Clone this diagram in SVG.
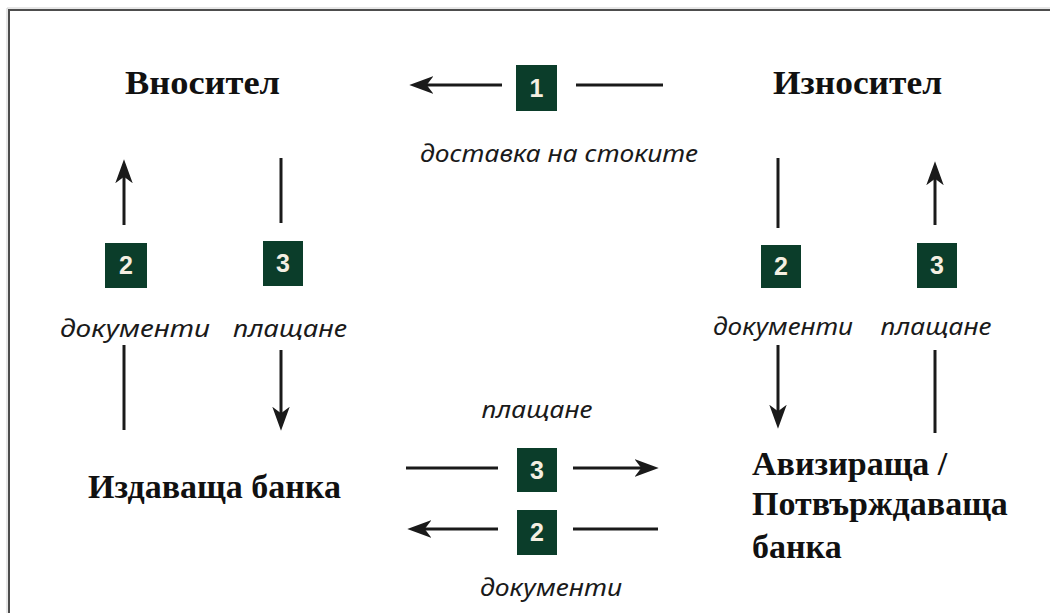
<svg xmlns="http://www.w3.org/2000/svg" width="1050" height="613" viewBox="0 0 1050 613">
<style>
.frame{stroke:#4d4d4d;stroke-width:2;fill:none}
.frame2{stroke:#cfcfcf;stroke-width:1;fill:none}
.ln{stroke:#1a1a1a;stroke-width:3;fill:none}
.box{fill:#0b3d2a}
.num{font-family:"Liberation Sans Narrow","Liberation Sans",Arial,sans-serif;font-weight:bold;font-size:25px;fill:#f4efe2;text-anchor:middle}
.head{font-family:"Liberation Serif","Times New Roman",serif;font-weight:bold;font-size:34px;fill:#111}
.lab{font-family:"Noto Sans","DejaVu Sans",sans-serif;font-style:italic;font-size:24px;fill:#1a1a1a;text-anchor:middle}
</style>
<defs>
<marker id="ah" markerUnits="userSpaceOnUse" markerWidth="24" markerHeight="18" viewBox="0 0 22 16" refX="14" refY="8" orient="auto">
<path d="M0,0 L22,8 L0,16 L6,8 z" fill="#1a1a1a"/>
</marker>
</defs>
<rect width="1050" height="613" fill="#ffffff"/>
<path class="frame2" d="M7,613 V8 H1050"/>
<path class="frame" d="M9,613 V10 H1050"/>

<g id="connectors">
<line class="ln" x1="502" y1="85" x2="418" y2="85" marker-end="url(#ah)"/>
<line class="ln" x1="576" y1="85" x2="663" y2="85"/>
<line class="ln" x1="124" y1="225" x2="124" y2="168" marker-end="url(#ah)"/>
<line class="ln" x1="124" y1="345" x2="124" y2="430"/>
<line class="ln" x1="281" y1="158" x2="281" y2="223"/>
<line class="ln" x1="281" y1="350" x2="281" y2="422" marker-end="url(#ah)"/>
<line class="ln" x1="778" y1="158" x2="778" y2="228"/>
<line class="ln" x1="778" y1="345" x2="778" y2="420" marker-end="url(#ah)"/>
<line class="ln" x1="935" y1="225" x2="935" y2="170" marker-end="url(#ah)"/>
<line class="ln" x1="935" y1="350" x2="935" y2="433"/>
<line class="ln" x1="406" y1="468" x2="498" y2="468"/>
<line class="ln" x1="573" y1="468" x2="650" y2="468" marker-end="url(#ah)"/>
<line class="ln" x1="498" y1="529" x2="416" y2="529" marker-end="url(#ah)"/>
<line class="ln" x1="573" y1="529" x2="658" y2="529"/>
</g>

<g id="step1">
<rect class="box" x="516" y="65" width="41" height="46"/>
<text class="num" x="536.5" y="97">1</text>
<text class="lab" x="559" y="162" textLength="278" lengthAdjust="spacingAndGlyphs">доставка на стоките</text>
</g>
<g id="left-docs">
<rect class="box" x="105" y="243" width="42" height="45"/>
<text class="num" x="126" y="274">2</text>
<text class="lab" x="135" y="337" textLength="150" lengthAdjust="spacingAndGlyphs">документи</text>
</g>
<g id="left-pay">
<rect class="box" x="263" y="241" width="40" height="45"/>
<text class="num" x="283" y="272">3</text>
<text class="lab" x="290" y="337" textLength="114" lengthAdjust="spacingAndGlyphs">плащане</text>
</g>
<g id="right-docs">
<rect class="box" x="761" y="245" width="40" height="43"/>
<text class="num" x="781" y="275">2</text>
<text class="lab" x="783" y="335" textLength="140" lengthAdjust="spacingAndGlyphs">документи</text>
</g>
<g id="right-pay">
<rect class="box" x="917" y="243" width="40" height="45"/>
<text class="num" x="937" y="274">3</text>
<text class="lab" x="936" y="335" textLength="111" lengthAdjust="spacingAndGlyphs">плащане</text>
</g>
<g id="bottom-pay">
<rect class="box" x="517" y="448" width="40" height="44"/>
<text class="num" x="537" y="479">3</text>
<text class="lab" x="537" y="418" textLength="111" lengthAdjust="spacingAndGlyphs">плащане</text>
</g>
<g id="bottom-docs">
<rect class="box" x="517" y="510" width="40" height="45"/>
<text class="num" x="537" y="541">2</text>
<text class="lab" x="551" y="596" textLength="142" lengthAdjust="spacingAndGlyphs">документи</text>
</g>

<g id="importer"><text class="head" x="125" y="94" textLength="155" lengthAdjust="spacingAndGlyphs">Вносител</text></g>
<g id="exporter"><text class="head" x="773" y="94" textLength="169" lengthAdjust="spacingAndGlyphs">Износител</text></g>
<g id="issuing-bank"><text class="head" x="88" y="498">Издаваща банка</text></g>
<g id="advising-bank">
<text class="head" x="752" y="475">Авизираща /</text>
<text class="head" x="752" y="515">Потвърждаваща</text>
<text class="head" x="752" y="558">банка</text>
</g>
</svg>
